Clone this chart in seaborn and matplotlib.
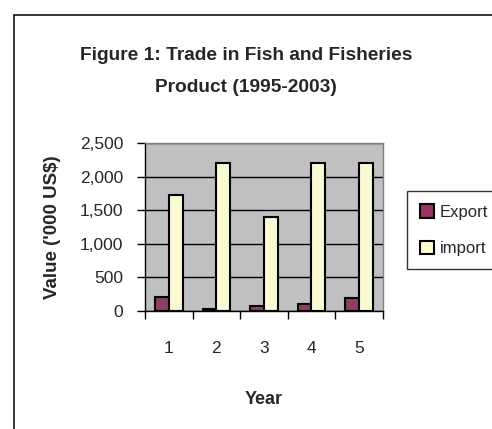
import matplotlib
matplotlib.use("Agg")
import matplotlib.pyplot as plt
from matplotlib.lines import Line2D
from matplotlib.ticker import FuncFormatter, FixedLocator
import numpy as np
import pandas as pd
import seaborn as sns

years = ["1", "2", "3", "4", "5"]
export_vals = [210, 30, 65, 95, 185]
import_vals = [1735, 2210, 1405, 2210, 2210]
series_names = ["Export", "import"]

df = pd.DataFrame({
    "Year": years * 2,
    "Value": export_vals + import_vals,
    "Series": [series_names[0]] * len(years) + [series_names[1]] * len(years),
})

sns.set_style("white")
plt.rcParams["font.family"] = ["Liberation Sans", "DejaVu Sans"]

fig = plt.figure(figsize=(4.92, 4.29), dpi=100)
ax = fig.add_axes([145 / 492, 1 - 310.7 / 429, 237.7 / 492, 167.4 / 429])
ax.set_facecolor("#C0C0C0")

sns.barplot(data=df, x="Year", y="Value", hue="Series",
            palette=["#993366", "#FFFFCC"], edgecolor="black", linewidth=1.5,
            width=0.58, gap=0, ax=ax, legend=False, zorder=3)

ax.set_ylim(0, 2500)
ax.set_xlim(-0.5, 4.5)
ax.set_yticks(np.arange(0, 2501, 500))
ax.yaxis.set_major_formatter(FuncFormatter(lambda v, p: f"{int(v):,}"))
ax.grid(axis="y", color="black", linewidth=1, zorder=1)
ax.set_axisbelow(True)

ax.tick_params(axis="y", direction="out", length=6, width=1, color="black",
               left=True, labelsize=12.5, pad=9.5)
ax.tick_params(axis="x", which="major", length=0, labelsize=12.5, pad=22)
ax.xaxis.set_minor_locator(FixedLocator(np.arange(-0.5, 5, 1)))
ax.tick_params(axis="x", which="minor", direction="out", length=6, width=1,
               color="black", bottom=True)

for side in ["left", "bottom"]:
    ax.spines[side].set_color("black")
    ax.spines[side].set_linewidth(1)
for side in ["top", "right"]:
    ax.spines[side].set_color("#808080")
    ax.spines[side].set_linewidth(1)

ax.set_xlabel("Year", fontsize=13, fontweight="bold", labelpad=25)
ax.set_ylabel("Value ('000 US$)", fontsize=13.5, fontweight="bold", labelpad=14)

fig.text(0.5, 1 - 55 / 429, "Figure 1: Trade in Fish and Fisheries",
         ha="center", va="center", fontsize=13.8, fontweight="bold")
fig.text(0.5, 1 - 88 / 429, "Product (1995-2003)",
         ha="center", va="center", fontsize=13.8, fontweight="bold")

# outer chart border (left and top edges visible)
fig.add_artist(Line2D([14 / 492, 14 / 492], [0, 1 - 15 / 429], color="black",
                      linewidth=1.1, transform=fig.transFigure))
fig.add_artist(Line2D([14 / 492, 1], [1 - 15 / 429, 1 - 15 / 429], color="black",
                      linewidth=1.1, transform=fig.transFigure))

handles = [
    plt.Rectangle((0, 0), 1, 1, facecolor="#993366", edgecolor="black", linewidth=1.5),
    plt.Rectangle((0, 0), 1, 1, facecolor="#FFFFCC", edgecolor="black", linewidth=1.5),
]
leg = fig.legend(handles, series_names, loc="upper left",
                 bbox_to_anchor=(406.7 / 492, 1 - 191 / 429),
                 frameon=True, fancybox=False, edgecolor="black", fontsize=12,
                 handlelength=0.85, handleheight=0.85, handletextpad=0.35,
                 labelspacing=1.25, borderpad=0.8, borderaxespad=0)
leg.get_frame().set_linewidth(1)

fig.savefig("out.png", dpi=100)
